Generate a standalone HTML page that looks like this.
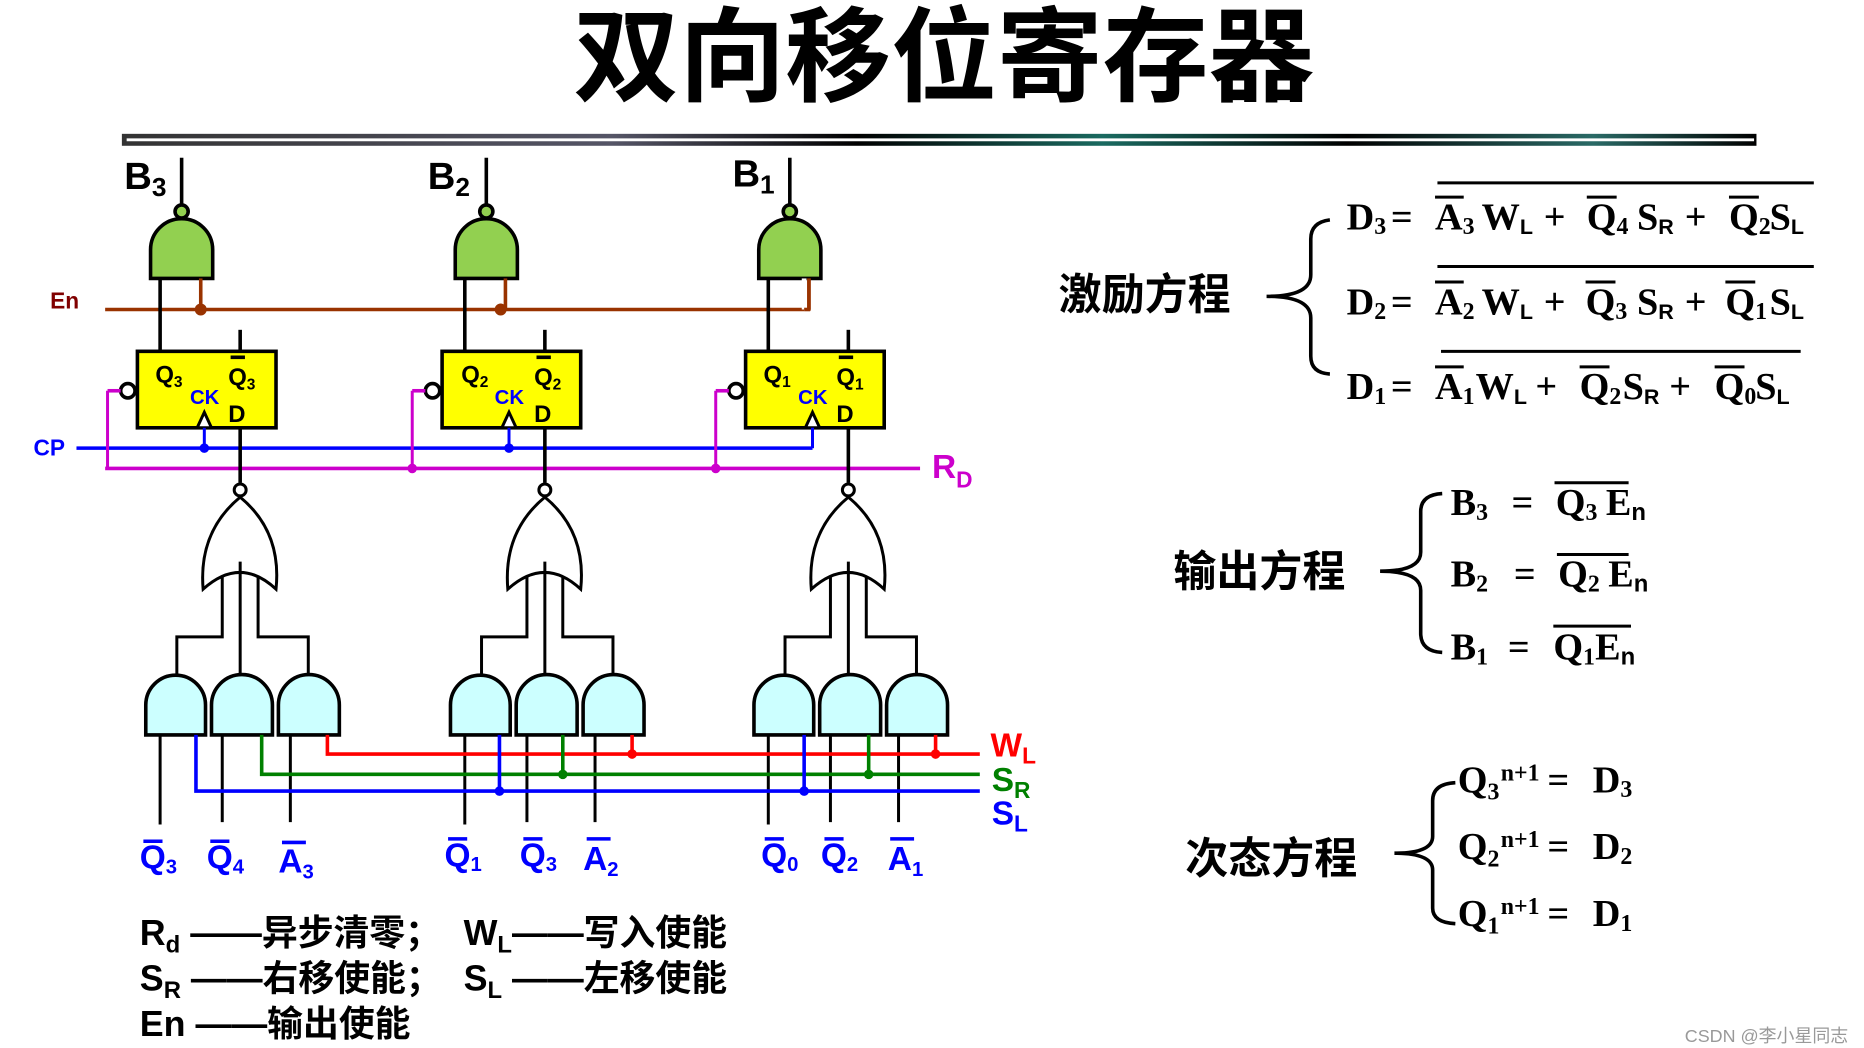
<!DOCTYPE html>
<html><head><meta charset="utf-8"><style>
html,body{margin:0;padding:0;background:#fff;}
svg{display:block;}
.s{font-family:"Liberation Sans","Noto Sans CJK SC",sans-serif;font-weight:bold;}
.r{font-family:"Liberation Serif","Noto Serif CJK SC",serif;font-weight:bold;}
</style></head><body>
<svg width="1864" height="1048" viewBox="0 0 1560 877" preserveAspectRatio="none" xmlns="http://www.w3.org/2000/svg">
<defs>
<linearGradient id="bar" x1="0" x2="1">
<stop offset="0" stop-color="#333"/><stop offset="0.3" stop-color="#556"/><stop offset="0.45" stop-color="#000"/><stop offset="0.6" stop-color="#1a6a60"/><stop offset="0.75" stop-color="#000"/><stop offset="0.9" stop-color="#2a6a66"/><stop offset="1" stop-color="#000"/>
</linearGradient>
<g id="stage" stroke="#000" stroke-width="3" fill="none">
<line x1="152" y1="132" x2="152" y2="172"/>
<circle cx="152" cy="177" r="5.5" fill="#92d050"/>
<path d="M126,233 V209 A26,26 0 0 1 178,209 V233 Z" fill="#92d050"/>
<line x1="134" y1="233" x2="134" y2="294"/>
<line x1="168" y1="233" x2="168" y2="259" stroke="#993300"/>
<line x1="201" y1="276" x2="201" y2="294"/>
<rect x="115" y="294" width="116" height="64" fill="#ffff00"/>
<path d="M165,358 L171,345 L177,358 Z" fill="#fff" stroke-width="2.5"/>
<line x1="171" y1="358" x2="171" y2="375" stroke="#0000ff" stroke-width="2.5"/>
<circle cx="107" cy="327" r="6" fill="#fff"/>
<line x1="90" y1="327" x2="101" y2="327" stroke="#cc00cc" stroke-width="3"/>
<line x1="90" y1="327" x2="90" y2="392" stroke="#cc00cc" stroke-width="2.5"/>
<line x1="201" y1="358" x2="201" y2="404"/>
<circle cx="201" cy="410" r="5" fill="#fff" stroke-width="2.5"/>
<path d="M170,493 Q166,445 201,416 Q236,445 231,493 Q201,465 170,493 Z" fill="#fff" stroke-width="2.5"/>
<polyline points="186,482 186,533 148,533 148,565" stroke-width="2.5"/>
<line x1="201" y1="470" x2="201" y2="565" stroke-width="2.5"/>
<polyline points="216,482 216,533 258,533 258,565" stroke-width="2.5"/>
<path d="M122,615 V590 A25,25 0 0 1 172,590 V615 Z" fill="#ccffff"/>
<path d="M177,615 V590 A25.5,25.5 0 0 1 228,590 V615 Z" fill="#ccffff"/>
<path d="M233,615 V590 A25.5,25.5 0 0 1 284,590 V615 Z" fill="#ccffff"/>
<line x1="134" y1="615" x2="134" y2="690" stroke-width="2.5"/>
<line x1="186" y1="615" x2="186" y2="688" stroke-width="2.5"/>
<line x1="243" y1="615" x2="243" y2="688" stroke-width="2.5"/>
</g>
</defs>
<text x="790" y="78" text-anchor="middle" class="s" font-size="86" fill="#000" textLength="620" lengthAdjust="spacingAndGlyphs">双向移位寄存器</text>
<rect x="102" y="112" width="1368" height="10" fill="url(#bar)"/>
<line x1="106" y1="117" x2="1468" y2="117" stroke="#fff" stroke-width="2.5"/>

<line x1="88" y1="259" x2="673" y2="259" stroke="#993300" stroke-width="3"/>
<line x1="64" y1="375" x2="680" y2="375" stroke="#0000ff" stroke-width="3"/>
<line x1="88" y1="392" x2="770" y2="392" stroke="#cc00cc" stroke-width="3"/>
<use href="#stage"/>
<use href="#stage" transform="translate(255,0)"/>
<use href="#stage" transform="translate(509,0)"/>
<line x1="673" y1="233" x2="673" y2="259" stroke="#fff" stroke-width="4"/>
<line x1="677" y1="233" x2="677" y2="260" stroke="#993300" stroke-width="3"/>
<line x1="673" y1="259" x2="678" y2="259" stroke="#993300" stroke-width="3"/>
<g fill="#993300"><circle cx="168" cy="259" r="5"/><circle cx="419" cy="259" r="5"/></g>
<g fill="#0000ff"><circle cx="171" cy="375" r="4"/><circle cx="426" cy="375" r="4"/></g>
<line x1="680" y1="358" x2="680" y2="375" stroke="#0000ff" stroke-width="2.5"/>
<g fill="#cc00cc"><circle cx="345" cy="392" r="4"/><circle cx="599" cy="392" r="4"/></g>

<g stroke-width="3" fill="none">
<polyline points="274,615 274,631 820,631" stroke="#ff0000"/>
<polyline points="219,615 219,648 820,648" stroke="#008000"/>
<polyline points="164,615 164,662 820,662" stroke="#0000ff"/>
<line x1="529" y1="615" x2="529" y2="631" stroke="#ff0000"/>
<line x1="783" y1="615" x2="783" y2="631" stroke="#ff0000"/>
<line x1="471" y1="615" x2="471" y2="648" stroke="#008000"/>
<line x1="727" y1="615" x2="727" y2="648" stroke="#008000"/>
<line x1="418" y1="615" x2="418" y2="662" stroke="#0000ff"/>
<line x1="673" y1="615" x2="673" y2="662" stroke="#0000ff"/>
</g>
<circle cx="529" cy="631" r="4" fill="#ff0000"/><circle cx="783" cy="631" r="4" fill="#ff0000"/>
<circle cx="471" cy="648" r="4" fill="#008000"/><circle cx="727" cy="648" r="4" fill="#008000"/>
<circle cx="418" cy="662" r="4" fill="#0000ff"/><circle cx="673" cy="662" r="4" fill="#0000ff"/>

<g class="s">
<text x="104" y="158" font-size="32">B<tspan font-size="22" dy="6">3</tspan></text>
<text x="358" y="158" font-size="32">B<tspan font-size="22" dy="6">2</tspan></text>
<text x="613" y="156" font-size="32">B<tspan font-size="22" dy="6">1</tspan></text>
<text x="42" y="258" font-size="19" fill="#800000">En</text>
<text x="28" y="381" font-size="19" fill="#0000ff">CP</text>
<text x="780" y="400" font-size="28" fill="#cc00cc">R<tspan font-size="19" dy="8">D</tspan></text>
<text x="829" y="633" font-size="28" fill="#ff0000">W<tspan font-size="19" dy="6">L</tspan></text>
<text x="830" y="662" font-size="28" fill="#008000">S<tspan font-size="19" dy="6">R</tspan></text>
<text x="830" y="690" font-size="28" fill="#0000ff">S<tspan font-size="19" dy="6">L</tspan></text>
</g>
<g class="s" font-size="20">
<text x="130" y="320">Q<tspan font-size="13" dy="4">3</tspan></text>
<text x="191" y="322">Q<tspan font-size="13" dy="4">3</tspan></text>
<text x="386" y="320">Q<tspan font-size="13" dy="4">2</tspan></text>
<text x="447" y="322">Q<tspan font-size="13" dy="4">2</tspan></text>
<text x="639" y="320">Q<tspan font-size="13" dy="4">1</tspan></text>
<text x="700" y="322">Q<tspan font-size="13" dy="4">1</tspan></text>
<text x="191" y="353">D</text><text x="447" y="353">D</text><text x="700" y="353">D</text>
<text x="159" y="338" font-size="17" fill="#0000ff">CK</text>
<text x="414" y="338" font-size="17" fill="#0000ff">CK</text>
<text x="668" y="338" font-size="17" fill="#0000ff">CK</text>
</g>
<g stroke="#000" stroke-width="3">
<line x1="193" y1="299" x2="205" y2="299"/><line x1="449" y1="299" x2="461" y2="299"/><line x1="702" y1="299" x2="714" y2="299"/>
</g>
<g class="s" font-size="28" fill="#0000ff">
<text x="117" y="727">Q<tspan font-size="17" dy="4">3</tspan></text>
<text x="173" y="727">Q<tspan font-size="17" dy="4">4</tspan></text>
<text x="233" y="730">A<tspan font-size="17" dy="5">3</tspan></text>
<text x="372" y="725">Q<tspan font-size="17" dy="4">1</tspan></text>
<text x="435" y="725">Q<tspan font-size="17" dy="4">3</tspan></text>
<text x="488" y="728">A<tspan font-size="17" dy="5">2</tspan></text>
<text x="637" y="725">Q<tspan font-size="17" dy="4">0</tspan></text>
<text x="687" y="725">Q<tspan font-size="17" dy="4">2</tspan></text>
<text x="743" y="728">A<tspan font-size="17" dy="5">1</tspan></text>
</g>
<g stroke="#0000ff" stroke-width="3">
<line x1="120" y1="704" x2="136" y2="704"/><line x1="176" y1="704" x2="192" y2="704"/><line x1="236" y1="705" x2="256" y2="705"/>
<line x1="375" y1="702" x2="391" y2="702"/><line x1="438" y1="702" x2="454" y2="702"/><line x1="491" y1="702" x2="511" y2="702"/>
<line x1="640" y1="702" x2="656" y2="702"/><line x1="690" y1="702" x2="706" y2="702"/><line x1="745" y1="702" x2="765" y2="702"/>
</g>

<g class="s" font-size="30">
<text x="117" y="791">R<tspan font-size="20" dy="6">d</tspan><tspan dy="-6"> ——异步清零；</tspan></text>
<text x="388" y="791">W<tspan font-size="20" dy="6">L</tspan><tspan dy="-6">——写入使能</tspan></text>
<text x="117" y="829">S<tspan font-size="20" dy="6">R</tspan><tspan dy="-6"> ——右移使能；</tspan></text>
<text x="388" y="829">S<tspan font-size="20" dy="6">L</tspan><tspan dy="-6"> ——左移使能</tspan></text>
<text x="117" y="867">En ——输出使能</text>
</g>

<g class="s" font-size="36">
<text x="886" y="259">激励方程</text>
<text x="982" y="491">输出方程</text>
<text x="992" y="731">次态方程</text>
</g>
<g fill="none" stroke="#000" stroke-width="3">
<path d="M1113,184 Q1097,186 1097,200 V230 Q1097,248 1060,248 Q1097,248 1097,266 V298 Q1097,312 1113,313"/>
<path d="M1207,413 Q1189,414 1189,428 V462 Q1189,478 1155,478 Q1189,478 1189,494 V530 Q1189,545 1207,546"/>
<path d="M1218,655 Q1199,656 1199,670 V700 Q1199,714 1167,714 Q1199,714 1199,728 V760 Q1199,772 1218,773"/>
</g>
<g class="r" font-size="32">
<!-- D3 -->
<text y="192"><tspan x="1127">D</tspan><tspan font-size="20" dy="4">3</tspan><tspan x="1164" dy="-4">=</tspan><tspan x="1201">A</tspan><tspan font-size="20" dy="4">3</tspan><tspan x="1240" dy="-4">W</tspan><tspan font-size="18" dy="4" class="s">L</tspan><tspan x="1292" dy="-4">+</tspan><tspan x="1328">Q</tspan><tspan font-size="20" dy="4">4</tspan><tspan x="1370" dy="-4">S</tspan><tspan font-size="18" dy="4" class="s">R</tspan><tspan x="1410" dy="-4">+</tspan><tspan x="1447">Q</tspan><tspan font-size="20" dy="4">2</tspan><tspan x="1481" dy="-4">S</tspan><tspan font-size="18" dy="4" class="s">L</tspan></text>
<!-- D2 -->
<text y="263"><tspan x="1127">D</tspan><tspan font-size="20" dy="4">2</tspan><tspan x="1164" dy="-4">=</tspan><tspan x="1201">A</tspan><tspan font-size="20" dy="4">2</tspan><tspan x="1240" dy="-4">W</tspan><tspan font-size="18" dy="4" class="s">L</tspan><tspan x="1292" dy="-4">+</tspan><tspan x="1327">Q</tspan><tspan font-size="20" dy="4">3</tspan><tspan x="1370" dy="-4">S</tspan><tspan font-size="18" dy="4" class="s">R</tspan><tspan x="1410" dy="-4">+</tspan><tspan x="1444">Q</tspan><tspan font-size="20" dy="4">1</tspan><tspan x="1481" dy="-4">S</tspan><tspan font-size="18" dy="4" class="s">L</tspan></text>
<!-- D1 -->
<text y="334"><tspan x="1127">D</tspan><tspan font-size="20" dy="4">1</tspan><tspan x="1164" dy="-4">=</tspan><tspan x="1201">A</tspan><tspan font-size="20" dy="4">1</tspan><tspan x="1235" dy="-4">W</tspan><tspan font-size="18" dy="4" class="s">L</tspan><tspan x="1285" dy="-4">+</tspan><tspan x="1322">Q</tspan><tspan font-size="20" dy="4">2</tspan><tspan x="1358" dy="-4">S</tspan><tspan font-size="18" dy="4" class="s">R</tspan><tspan x="1397" dy="-4">+</tspan><tspan x="1435">Q</tspan><tspan font-size="20" dy="4">0</tspan><tspan x="1469" dy="-4">S</tspan><tspan font-size="18" dy="4" class="s">L</tspan></text>
<!-- B -->
<text y="431"><tspan x="1214">B</tspan><tspan font-size="20" dy="4">3</tspan><tspan x="1265" dy="-4">=</tspan><tspan x="1302">Q</tspan><tspan font-size="20" dy="4">3</tspan><tspan x="1344" dy="-4">E</tspan><tspan font-size="20" dy="4" class="s">n</tspan></text>
<text y="491"><tspan x="1214">B</tspan><tspan font-size="20" dy="4">2</tspan><tspan x="1267" dy="-4">=</tspan><tspan x="1304">Q</tspan><tspan font-size="20" dy="4">2</tspan><tspan x="1346" dy="-4">E</tspan><tspan font-size="20" dy="4" class="s">n</tspan></text>
<text y="552"><tspan x="1214">B</tspan><tspan font-size="20" dy="4">1</tspan><tspan x="1262" dy="-4">=</tspan><tspan x="1300">Q</tspan><tspan font-size="20" dy="4">1</tspan><tspan x="1335" dy="-4">E</tspan><tspan font-size="20" dy="4" class="s">n</tspan></text>
<!-- Q -->
<text y="663"><tspan x="1220">Q</tspan><tspan font-size="20" dy="6">3</tspan><tspan x="1256" font-size="20" dy="-16">n+1</tspan><tspan x="1295" dy="10">=</tspan><tspan x="1333">D</tspan><tspan font-size="20" dy="4">3</tspan></text>
<text y="719"><tspan x="1220">Q</tspan><tspan font-size="20" dy="6">2</tspan><tspan x="1256" font-size="20" dy="-16">n+1</tspan><tspan x="1295" dy="10">=</tspan><tspan x="1333">D</tspan><tspan font-size="20" dy="4">2</tspan></text>
<text y="775"><tspan x="1220">Q</tspan><tspan font-size="20" dy="6">1</tspan><tspan x="1256" font-size="20" dy="-16">n+1</tspan><tspan x="1295" dy="10">=</tspan><tspan x="1333">D</tspan><tspan font-size="20" dy="4">1</tspan></text>
</g>
<g stroke="#000" stroke-width="2.5">
<line x1="1203" y1="153" x2="1518" y2="153"/><line x1="1203" y1="223" x2="1518" y2="223"/><line x1="1206" y1="294" x2="1507" y2="294"/>
<line x1="1201" y1="165" x2="1225" y2="165"/><line x1="1328" y1="165" x2="1353" y2="165"/><line x1="1447" y1="165" x2="1472" y2="165"/>
<line x1="1201" y1="236" x2="1225" y2="236"/><line x1="1327" y1="236" x2="1352" y2="236"/><line x1="1444" y1="236" x2="1469" y2="236"/>
<line x1="1201" y1="307" x2="1225" y2="307"/><line x1="1322" y1="307" x2="1347" y2="307"/><line x1="1435" y1="307" x2="1460" y2="307"/>
<line x1="1301" y1="404" x2="1363" y2="404"/><line x1="1303" y1="464" x2="1363" y2="464"/><line x1="1300" y1="524" x2="1365" y2="524"/>
</g>
<text x="1410" y="872" font-family="Liberation Sans,Noto Sans CJK SC,sans-serif" font-size="15" fill="#999">CSDN @李小星同志</text>
</svg>
</body></html>
